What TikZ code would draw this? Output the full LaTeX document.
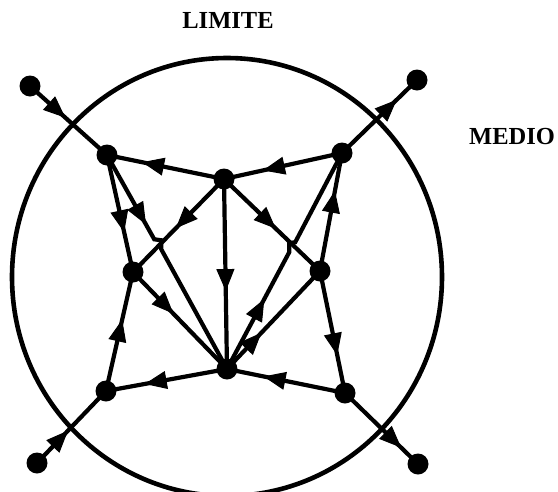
\documentclass[tikz,border=0pt]{standalone}
\usepackage{fontspec}
\setmainfont{Liberation Serif}
\usetikzlibrary{decorations.markings,arrows.meta,calc,backgrounds}
\begin{document}
\begin{tikzpicture}[x=1pt,y=-1pt,
  dot/.style={circle,fill=black,inner sep=0pt,minimum size=21pt},
  flowarrow/.tip={Triangle[length=22pt,width=18pt]},
  flow/.style={line width=4.2pt,postaction={decorate},
    decoration={markings,mark=at position #1 with {\arrow[line width=1pt]{flowarrow}}}},
  lbl/.style={font=\fontsize{24.5}{24.5}\selectfont\bfseries}]
\path[use as bounding box] (0,0) rectangle (558,491);
% boundary
\draw[line width=4.6pt] (227,277) ellipse [x radius=215, y radius=219];
\node[lbl] (limite) at (228,20) {LIMITE};
\node[lbl] (medio) at (512,137) {MEDIO};
% outer nodes
\node[dot] (TL) at (30,86) {};
\node[dot] (TR) at (417,80) {};
\node[dot] (BL) at (37,463) {};
\node[dot] (BR) at (418,464) {};
% inner nodes
\node[dot] (A) at (107,155) {};
\node[dot] (B) at (342,153) {};
\node[dot] (C) at (224,179) {};
\node[dot] (D) at (133,272) {};
\node[dot] (E) at (320,271) {};
\node[dot] (F) at (227,369) {};
\node[dot] (G) at (106,391) {};
\node[dot] (H) at (345,393) {};
\coordinate (X1) at (intersection of A.center--F.center and C.center--D.center);
\coordinate (X2) at (intersection of F.center--B.center and C.center--E.center);
\begin{pgfonlayer}{background}
\draw[flow=0.46] (TL.center) -- (A.center);
\draw[flow=0.73] (B.center) -- (TR.center);
\draw[flow=0.45] (BL.center) -- (G.center);
\draw[flow=0.77] (H.center) -- (BR.center);
\draw[flow=0.70] (C.center) -- (A.center);
\draw[flow=0.67] (B.center) -- (C.center);
\draw[flow=0.66] (A.center) -- (D.center);
\draw[flow=0.32] (A.center) -- ($(X1)!8pt!(A.center)$) -- ++(7,1) -- ++(0,9) -- (F.center);
\draw[flow=0.53] (C.center) -- (D.center);
\draw[flow=0.59] (C.center) -- (F.center);
\draw[flow=0.54] (C.center) -- (E.center);
\draw[flow=0.68] (E.center) -- (B.center);
\draw[flow=0.32] (F.center) -- ($(X2)!8pt!(F.center)$) -- ++(0,-9) -- ++(6,-1) -- (B.center);
\draw[flow=0.37] (F.center) -- (E.center);
\draw[flow=0.43] (D.center) -- (F.center);
\draw[flow=0.60] (G.center) -- (D.center);
\draw[flow=0.68] (F.center) -- (G.center);
\draw[flow=0.69] (H.center) -- (F.center);
\draw[flow=0.69] (E.center) -- (H.center);
\end{pgfonlayer}
\end{tikzpicture}
\end{document}
